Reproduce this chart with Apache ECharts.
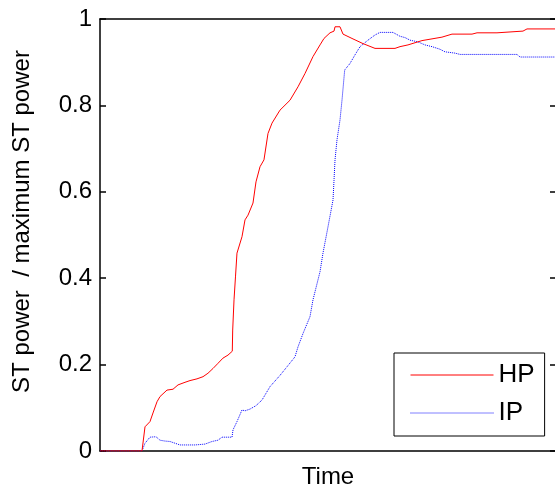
<!DOCTYPE html>
<html>
<head>
<meta charset="utf-8">
<title>ST power</title>
<script src="https://cdn.jsdelivr.net/npm/echarts@6/dist/echarts.min.js"></script>
<style>
  html, body { margin: 0; padding: 0; background: #fff; }
  #chart { width: 555px; height: 488px; }
</style>
</head>
<body>
<div id="chart"></div>
<script>
// Normalised steam-turbine power over time (time in arbitrary units, 0-100)
const seriesNames = ['HP', 'IP'];
const seriesColors = ['#ff0000', '#0000ff'];

const hpTime = [0, 9.21, 9.87, 10.96, 11.62, 12.5, 13.16, 14.69, 16.01, 17.11, 18.64, 19.74,
  21.27, 22.59, 23.68, 24.78, 25.88, 26.97, 28.07, 29.01, 29.1, 29.39, 29.71, 30.04, 31.14,
  31.8, 32.46, 33.55, 34.21, 35.09, 35.96, 36.84, 37.72, 39.47, 41.67, 43.42, 44.96, 46.71,
  48.25, 49.12, 50.44, 51.32, 51.54, 52.63, 53.29, 55.26, 57.68, 60.31, 64.69, 65.79, 67.54,
  70.61, 74.99, 77.19, 81.58, 82.68, 87.06, 87.28, 92.76, 93.64, 100];
const hpPower = [0, 0, 0.056, 0.068, 0.088, 0.114, 0.126, 0.141, 0.143, 0.153, 0.159, 0.163,
  0.167, 0.172, 0.180, 0.191, 0.203, 0.215, 0.222, 0.231, 0.28, 0.35, 0.403, 0.458, 0.496,
  0.535, 0.546, 0.574, 0.623, 0.658, 0.674, 0.735, 0.759, 0.789, 0.812, 0.843, 0.874, 0.913,
  0.940, 0.955, 0.968, 0.972, 0.982, 0.982, 0.965, 0.955, 0.943, 0.932, 0.932, 0.936, 0.940,
  0.950, 0.958, 0.965, 0.965, 0.968, 0.968, 0.972, 0.972, 0.977, 0.977];

const ipTime = [0, 9.21, 9.87, 10.96, 12.28, 13.16, 14.25, 15.35, 16.45, 17.54, 20.83, 23.03,
  24.56, 25.88, 26.75, 28.95, 29.17, 30.04, 31.14, 31.8, 32.89, 34.21, 35.53, 37.28, 39.47,
  41.01, 42.76, 43.42, 44.52, 46.05, 46.71, 48.25, 48.9, 50, 51.1, 51.32, 51.54, 51.97, 52.63,
  53.07, 53.66, 54.82, 55.92, 57.02, 58.77, 60.31, 61.4, 64.25, 65.79, 66.89, 67.98, 69.74,
  71.27, 72.81, 74.56, 75.66, 77.85, 78.95, 91.45, 92.11, 100];
const ipPower = [0, 0, 0.018, 0.032, 0.033, 0.025, 0.023, 0.022, 0.018, 0.014, 0.014, 0.016,
  0.022, 0.025, 0.032, 0.032, 0.049, 0.068, 0.095, 0.093, 0.097, 0.105, 0.118, 0.149, 0.175,
  0.195, 0.218, 0.241, 0.272, 0.311, 0.35, 0.415, 0.458, 0.519, 0.581, 0.627, 0.674, 0.72,
  0.766, 0.812, 0.882, 0.897, 0.917, 0.936, 0.951, 0.963, 0.969, 0.969, 0.960, 0.957, 0.951,
  0.947, 0.940, 0.936, 0.930, 0.924, 0.921, 0.918, 0.918, 0.912, 0.912];

const yTicks = [0, 0.2, 0.4, 0.6, 0.8, 1];

const zip = (xs, ys) => xs.map((x, i) => [x, ys[i]]);
const FONT = 'Liberation Sans, Arial, sans-serif';
const dashes = [null, [1, 1]];

const chart = echarts.init(document.getElementById('chart'), null, { renderer: 'canvas' });

chart.setOption({
  animation: false,
  backgroundColor: '#fff',
  textStyle: { fontFamily: FONT, color: '#000' },
  grid: {
    left: 100, top: 19, width: 456, height: 432,
    containLabel: false,
    outerBoundsMode: 'none'
  },
  legend: {
    data: seriesNames.map((name, i) => ({
      name,
      itemStyle: { opacity: 0 },
      lineStyle: { color: seriesColors[i], width: 1, type: dashes[i] || 'solid', opacity: 1 }
    })),
    orient: 'vertical',
    left: 394,
    top: 353,
    padding: [9, 10, 10, 16],
    itemGap: 12,
    itemWidth: 83,
    itemHeight: 14,
    backgroundColor: '#fff',
    borderColor: '#000',
    borderWidth: 1,
    borderRadius: 0,
    textStyle: { fontFamily: FONT, fontSize: 26, color: '#000', lineHeight: 26 }
  },
  xAxis: [
    {
      type: 'value',
      min: 0,
      max: 100,
      position: 'bottom',
      name: 'Time',
      nameLocation: 'middle',
      nameGap: 14,
      nameTextStyle: { fontFamily: FONT, fontSize: 24, color: '#000' },
      axisLine: { show: true, onZero: false, lineStyle: { color: '#000', width: 1.5 } },
      axisTick: { show: false },
      axisLabel: { show: false },
      splitLine: { show: false }
    },
    {
      type: 'value',
      min: 0,
      max: 100,
      position: 'top',
      axisLine: { show: true, onZero: false, lineStyle: { color: '#000', width: 1.5 } },
      axisTick: { show: false },
      axisLabel: { show: false },
      splitLine: { show: false }
    }
  ],
  yAxis: [
    {
      type: 'value',
      min: 0,
      max: 1,
      interval: 0.2,
      position: 'left',
      name: 'ST power  / maximum ST power',
      nameLocation: 'middle',
      nameRotate: 90,
      nameGap: 66,
      nameTextStyle: { fontFamily: FONT, fontSize: 24, color: '#000', padding: [0, 0, 0, 27] },
      axisLine: { show: true, onZero: false, lineStyle: { color: '#000', width: 1.5 } },
      axisTick: { show: true, inside: true, length: 6, lineStyle: { color: '#000', width: 1.5 } },
      axisLabel: {
        margin: 8,
        fontFamily: FONT,
        fontSize: 24,
        color: '#000',
        formatter: v => yTicks.includes(+v.toFixed(1)) ? String(+v.toFixed(1)) : ''
      },
      splitLine: { show: false }
    },
    {
      type: 'value',
      min: 0,
      max: 1,
      interval: 0.2,
      position: 'right',
      axisLine: { show: true, onZero: false, lineStyle: { color: '#000', width: 1.5 } },
      axisTick: { show: true, inside: true, length: 6, lineStyle: { color: '#000', width: 1.5 } },
      axisLabel: { show: false },
      splitLine: { show: false }
    }
  ],
  series: [
    {
      name: 'HP',
      type: 'line',
      data: zip(hpTime, hpPower),
      symbol: 'none',
      color: seriesColors[0],
      lineStyle: { color: seriesColors[0], width: 1 },
      z: 3
    },
    {
      name: 'IP',
      type: 'line',
      data: zip(ipTime, ipPower),
      symbol: 'none',
      color: seriesColors[1],
      lineStyle: { color: seriesColors[1], width: 1, type: dashes[1] },
      z: 2
    }
  ]
});
</script>
</body>
</html>
